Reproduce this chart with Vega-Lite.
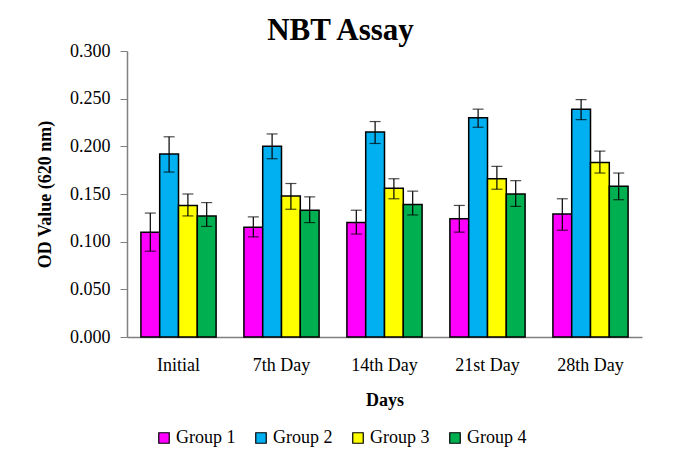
{
  "$schema": "https://vega.github.io/schema/vega-lite/v6.json",
  "width": 515,
  "height": 286,
  "autosize": {"type": "none"},
  "padding": {"left": 127, "top": 51, "right": 36, "bottom": 138},
  "background": "white",
  "config": {
    "font": "Liberation Serif",
    "view": {"stroke": null},
    "axis": {"grid": false, "labelFont": "Liberation Serif", "titleFont": "Liberation Serif", "labelColor": "black", "titleColor": "black", "labelFontWeight": "normal"}
  },
  "title": {
    "text": "NBT Assay",
    "font": "Liberation Serif",
    "fontSize": 31,
    "fontWeight": "bold",
    "color": "black",
    "anchor": "middle",
    "dx": -44,
    "dy": 15,
    "offset": 10
  },
  "data": {
    "values": [
      {"day": "Initial", "group": "Group 1", "value": 0.110, "lo": 0.090, "hi": 0.130},
      {"day": "Initial", "group": "Group 2", "value": 0.192, "lo": 0.173, "hi": 0.210},
      {"day": "Initial", "group": "Group 3", "value": 0.138, "lo": 0.127, "hi": 0.150},
      {"day": "Initial", "group": "Group 4", "value": 0.127, "lo": 0.116, "hi": 0.141},
      {"day": "7th Day", "group": "Group 1", "value": 0.115, "lo": 0.105, "hi": 0.126},
      {"day": "7th Day", "group": "Group 2", "value": 0.200, "lo": 0.187, "hi": 0.213},
      {"day": "7th Day", "group": "Group 3", "value": 0.148, "lo": 0.134, "hi": 0.161},
      {"day": "7th Day", "group": "Group 4", "value": 0.133, "lo": 0.120, "hi": 0.147},
      {"day": "14th Day", "group": "Group 1", "value": 0.120, "lo": 0.108, "hi": 0.133},
      {"day": "14th Day", "group": "Group 2", "value": 0.215, "lo": 0.203, "hi": 0.226},
      {"day": "14th Day", "group": "Group 3", "value": 0.156, "lo": 0.145, "hi": 0.166},
      {"day": "14th Day", "group": "Group 4", "value": 0.139, "lo": 0.128, "hi": 0.153},
      {"day": "21st Day", "group": "Group 1", "value": 0.124, "lo": 0.110, "hi": 0.138},
      {"day": "21st Day", "group": "Group 2", "value": 0.230, "lo": 0.220, "hi": 0.239},
      {"day": "21st Day", "group": "Group 3", "value": 0.166, "lo": 0.155, "hi": 0.179},
      {"day": "21st Day", "group": "Group 4", "value": 0.150, "lo": 0.137, "hi": 0.164},
      {"day": "28th Day", "group": "Group 1", "value": 0.129, "lo": 0.112, "hi": 0.145},
      {"day": "28th Day", "group": "Group 2", "value": 0.239, "lo": 0.228, "hi": 0.249},
      {"day": "28th Day", "group": "Group 3", "value": 0.183, "lo": 0.172, "hi": 0.195},
      {"day": "28th Day", "group": "Group 4", "value": 0.158, "lo": 0.144, "hi": 0.172}
    ]
  },
  "encoding": {
    "x": {
      "field": "day",
      "type": "nominal",
      "sort": ["Initial", "7th Day", "14th Day", "21st Day", "28th Day"],
      "scale": {"paddingInner": 0.27, "paddingOuter": 0.135},
      "axis": {
        "title": "Days",
        "titleFontSize": 18,
        "titleFontWeight": "bold",
        "titlePadding": 17,
        "labelFontSize": 18,
        "labelAngle": 0,
        "labelPadding": 19,
        "ticks": false,
        "domainColor": "#808080",
        "domainWidth": 1.5
      }
    },
    "xOffset": {
      "field": "group",
      "type": "nominal",
      "scale": {"paddingInner": 0, "paddingOuter": 0}
    }
  },
  "layer": [
    {
      "mark": {"type": "bar", "stroke": "black", "strokeWidth": 1.5},
      "encoding": {
        "y": {
          "field": "value",
          "type": "quantitative",
          "scale": {"domain": [0, 0.3]},
          "axis": {
            "title": "OD Value (620 nm)",
            "titleFontSize": 18,
            "titleFontWeight": "bold",
            "titlePadding": 15,
            "labelFontSize": 18,
            "format": ".3f",
            "values": [0, 0.05, 0.1, 0.15, 0.2, 0.25, 0.3],
            "tickSize": 7,
            "labelPadding": 10,
            "domainColor": "#808080",
            "tickColor": "#808080",
            "domainWidth": 1.5
          }
        },
        "color": {
          "field": "group",
          "type": "nominal",
          "scale": {
            "domain": ["Group 1", "Group 2", "Group 3", "Group 4"],
            "range": ["#FF00FF", "#00B0F0", "#FFFF00", "#00B050"]
          },
          "legend": {
            "title": null,
            "orient": "none",
            "direction": "horizontal",
            "legendX": 28,
            "legendY": 378,
            "symbolType": "square",
            "symbolSize": 110,
            "symbolStrokeColor": "black",
            "symbolStrokeWidth": 1.2,
            "symbolOpacity": 1,
            "labelFont": "Liberation Serif",
            "labelFontSize": 18,
            "labelColor": "black",
            "labelOffset": 3,
            "columnPadding": 16
          }
        }
      }
    },
    {
      "mark": {"type": "rule", "color": "black", "strokeWidth": 1.2},
      "encoding": {
        "y": {"field": "lo", "type": "quantitative"},
        "y2": {"field": "hi"}
      }
    },
    {
      "mark": {"type": "tick", "color": "black", "size": 11, "thickness": 1.2},
      "encoding": {
        "y": {"field": "lo", "type": "quantitative"}
      }
    },
    {
      "mark": {"type": "tick", "color": "black", "size": 11, "thickness": 1.2},
      "encoding": {
        "y": {"field": "hi", "type": "quantitative"}
      }
    }
  ]
}
